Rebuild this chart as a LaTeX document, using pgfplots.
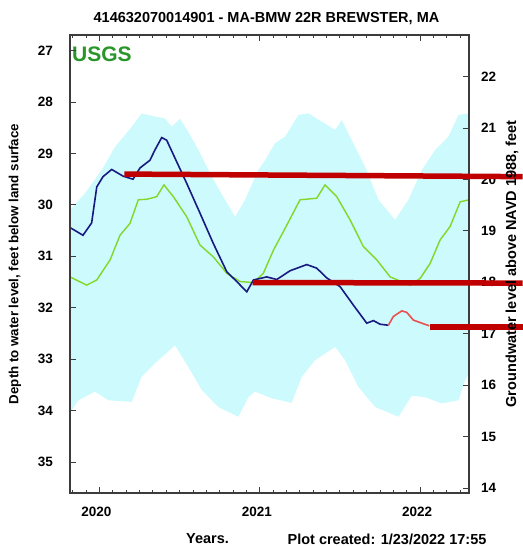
\documentclass[border=0pt]{standalone}
\usepackage{fontspec}
\setmainfont{Liberation Sans}
\usepackage{pgfplots}
\pgfplotsset{compat=1.18}

\definecolor{bandc}{RGB}{205,250,252}
\definecolor{medc}{RGB}{130,215,40}
\definecolor{navyc}{RGB}{25,25,130}
\definecolor{provc}{RGB}{235,80,80}
\definecolor{levc}{RGB}{192,0,0}
\definecolor{usgsc}{RGB}{40,150,40}
\definecolor{axc}{RGB}{60,60,60}

\newcommand{\lbl}{\fontsize{14.5}{16}\selectfont\bfseries}
\newcommand{\tkl}{\fontsize{13.5}{15}\selectfont\bfseries}

\begin{document}
\begin{tikzpicture}
\useasboundingbox (-70pt,-53pt) rectangle (452pt,493pt);
\begin{axis}[
  at={(0pt,0pt)}, anchor=south west,
  scale only axis, width=399pt, height=458pt,
  xmin=2019.816, xmax=2022.305,
  ymin=26.695, ymax=35.603, y dir=reverse,
  axis on top, clip=false,
  axis line style={axc, line width=1.2pt},
  xtick={2020,2021,2022},
  minor xtick={2019.8333,2019.9167,2020.0833,2020.1667,2020.25,2020.3333,2020.4167,2020.5,2020.5833,2020.6667,2020.75,2020.8333,2020.9167,2021.0833,2021.1667,2021.25,2021.3333,2021.4167,2021.5,2021.5833,2021.6667,2021.75,2021.8333,2021.9167,2022.0833,2022.1667,2022.25},
  xtick pos=both, ytick pos=left,
  ytick={27,28,29,30,31,32,33,34,35},
  tick align=inside,
  major tick length=6pt, minor tick length=3pt,
  tick style={axc, line width=1pt},
  /pgf/number format/assume math mode=true,
  /pgf/number format/1000 sep={},
  xticklabel style={font=\tkl, anchor=north, inner sep=0pt, yshift=-14pt, xshift=-3pt},
  yticklabel style={font=\tkl, anchor=east, inner sep=0pt, xshift=-17pt},
  ylabel={Depth to water level, feet below land surface},
  ylabel style={font=\fontsize{13.3}{15}\selectfont\bfseries, at={(axis description cs:-0.1378,0.5)}, anchor=center},
  title={414632070014901 - MA-BMW 22R BREWSTER, MA},
  title style={font=\lbl, at={(axis description cs:0.4925,1.0393)}, anchor=center, yshift=-8pt},
  xlabel={Years.},
  xlabel style={font=\lbl, at={(axis description cs:0.3446,-0.1004)}, anchor=center},
]
% percentile band (min/max depth)
\addplot[draw=none, fill=bandc, forget plot] coordinates {
(2019.816,30.10) (2019.910,29.77) (2020.014,29.32) (2020.097,28.87) (2020.201,28.48)
(2020.263,28.22) (2020.346,28.28) (2020.409,28.32) (2020.451,28.48) (2020.502,28.32)
(2020.554,28.58) (2020.617,28.93) (2020.700,29.45) (2020.783,29.90) (2020.846,30.23)
(2020.908,29.90) (2020.991,29.32) (2021.033,29.13) (2021.095,28.80) (2021.158,28.67)
(2021.241,28.25) (2021.303,28.22) (2021.387,28.38) (2021.470,28.54) (2021.511,28.35)
(2021.574,28.74) (2021.657,29.26) (2021.740,29.90) (2021.844,30.29) (2021.927,29.90)
(2022.011,29.32) (2022.094,28.93) (2022.177,28.67) (2022.239,28.25) (2022.305,28.22)
(2022.305,33.27) (2022.281,33.41) (2022.239,33.80) (2022.135,33.86) (2022.031,33.74)
(2021.948,33.71) (2021.865,34.12) (2021.719,33.93) (2021.615,33.54) (2021.532,33.02)
(2021.470,32.76) (2021.345,33.02) (2021.262,33.34) (2021.199,33.85) (2021.075,33.76)
(2020.970,33.63) (2020.929,33.74) (2020.866,34.12) (2020.741,33.93) (2020.638,33.60)
(2020.554,33.15) (2020.471,32.73) (2020.346,33.08) (2020.263,33.34) (2020.201,33.83)
(2020.055,33.80) (2019.972,33.63) (2019.868,33.80) (2019.816,34.05)
};
% median
\addplot[medc, line width=1.4pt] coordinates {
(2019.816,31.40) (2019.920,31.56) (2019.983,31.46) (2020.066,31.07) (2020.128,30.59)
(2020.190,30.36) (2020.242,29.90) (2020.295,29.89) (2020.357,29.84) (2020.402,29.61)
(2020.461,29.84) (2020.544,30.23) (2020.627,30.78) (2020.710,31.01) (2020.794,31.33)
(2020.877,31.49) (2020.960,31.51) (2021.022,31.33) (2021.085,30.88) (2021.147,30.52)
(2021.251,29.90) (2021.355,29.87) (2021.407,29.61) (2021.480,29.84) (2021.563,30.29)
(2021.646,30.81) (2021.730,31.07) (2021.813,31.40) (2021.938,31.56) (2022.000,31.43)
(2022.062,31.14) (2022.125,30.68) (2022.187,30.42) (2022.250,29.94) (2022.305,29.90)
};
% approved data
\addplot[navyc, line width=1.6pt] coordinates {
(2019.816,30.44) (2019.897,30.59) (2019.951,30.35) (2019.983,29.65) (2020.022,29.45)
(2020.076,29.31) (2020.147,29.44) (2020.209,29.50) (2020.253,29.28) (2020.315,29.13)
(2020.346,28.93) (2020.388,28.69) (2020.419,28.74) (2020.471,29.09) (2020.544,29.58)
(2020.627,30.16) (2020.710,30.75) (2020.794,31.30) (2020.856,31.49) (2020.919,31.69)
(2020.960,31.46) (2021.043,31.40) (2021.106,31.45) (2021.189,31.28) (2021.293,31.16)
(2021.355,31.23) (2021.418,31.42) (2021.501,31.59) (2021.584,31.95) (2021.667,32.30)
(2021.709,32.25) (2021.750,32.32) (2021.802,32.34)
};
% provisional data
\addplot[provc, line width=1.6pt] coordinates {
(2021.802,32.34) (2021.833,32.17) (2021.886,32.06) (2021.917,32.09) (2021.958,32.24)
(2022.011,32.30) (2022.056,32.35)
};
\node[anchor=west, font=\fontsize{21}{22}\selectfont\bfseries, text=usgsc, inner sep=0pt]
  at (axis description cs:0.005,0.9585) {USGS};
\node[font=\lbl] at (axis description cs:0.7945,-0.1004) {Plot created: 1/23/2022 17:55};
\end{axis}
\begin{axis}[
  at={(0pt,0pt)}, anchor=south west,
  scale only axis, width=399pt, height=458pt,
  xmin=2019.816, xmax=2022.305,
  ymin=13.903, ymax=22.811,
  axis x line=none, axis y line*=right,
  axis line style={axc, line width=1.2pt},
  ytick={14,15,16,17,18,19,20,21,22},
  tick align=inside,
  major tick length=6pt,
  tick style={axc, line width=1pt},
  clip=false,
  /pgf/number format/assume math mode=true,
  yticklabel style={font=\tkl, anchor=west, inner sep=0pt, xshift=12pt},
  ylabel={Groundwater level above NAVD 1988, feet},
  ylabel style={font=\lbl, at={(axis description cs:1.1078,0.5)}, anchor=center},
]
\addplot[levc, line width=5.5pt] coordinates {(2020.155,20.106) (2022.640,20.056)};
\addplot[levc, line width=5.5pt] coordinates {(2020.956,17.996) (2022.640,17.986)};
\addplot[levc, line width=5.5pt] coordinates {(2022.062,17.136) (2022.640,17.136)};
\end{axis}
\end{tikzpicture}
\end{document}
